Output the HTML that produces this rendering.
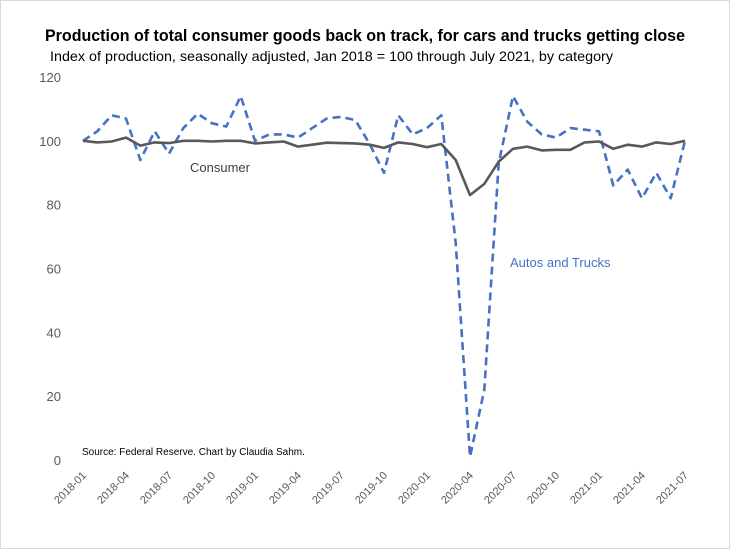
<!DOCTYPE html>
<html><head><meta charset="utf-8"><style>
body{margin:0;background:#fff;font-family:"Liberation Sans",sans-serif}
svg text{font-family:"Liberation Sans",sans-serif}
</style></head><body>
<svg id="chart" width="730" height="549" viewBox="0 0 730 549" xmlns="http://www.w3.org/2000/svg">
<rect x="0.5" y="0.5" width="729" height="548" fill="#fff" stroke="#d9d9d9"/>
<text x="45" y="41" textLength="640" lengthAdjust="spacingAndGlyphs" font-size="16.5" font-weight="bold" fill="#000">Production of total consumer goods back on track, for cars and trucks getting close</text>
<text x="50" y="61" textLength="563" lengthAdjust="spacingAndGlyphs" font-size="14" fill="#000">Index of production, seasonally adjusted, Jan 2018 = 100 through July 2021, by category</text>
<g id="yaxis"></g>
<g id="xaxis"></g>
<g id="series"></g>
<text x="190" y="172" font-size="13" fill="#404040">Consumer</text>
<text x="510" y="267" font-size="13" fill="#4472c4">Autos and Trucks</text>
<text x="82" y="455" font-size="10" fill="#000">Source: Federal Reserve. Chart by Claudia Sahm.</text>
</svg>
<script>
const yTicks=[0,20,40,60,80,100,120];
const consumer=[100,99.5,99.8,101,98.5,99.5,99.3,100,100,99.8,100,100,99.2,99.5,99.8,98.2,98.8,99.4,99.3,99.2,98.8,97.8,99.5,99,98,99,94,83,86.5,93.5,97.5,98.2,97,97.2,97.2,99.5,99.8,97.5,98.8,98.2,99.5,99,100];
const autos=[100,103,108,107,94,103,96,104,108.5,105.5,104.5,114,100,102,102,101,104,107,107.5,106.5,99,90,108,102,104,108,68,1,22,93,114,106,102,101,104,103.5,103,86,91,82,90,82,100];
const startYear=2018;
const NS="http://www.w3.org/2000/svg";
const x0=83,x1=685,y0=460,y1=77;
const xs=i=>x0+(x1-x0)*i/(consumer.length-1);
const ys=v=>y0-(y0-y1)*v/120;
function mk(tag,attrs,parent){const e=document.createElementNS(NS,tag);for(const k in attrs)e.setAttribute(k,attrs[k]);parent.appendChild(e);return e;}
const ya=document.getElementById('yaxis'),xa=document.getElementById('xaxis'),sr=document.getElementById('series');
yTicks.forEach(t=>{const e=mk('text',{x:61,y:ys(t)+5,'text-anchor':'end','font-size':13,fill:'#595959'},ya);e.textContent=t;

});
for(let i=0;i<consumer.length;i+=3){const y=startYear+Math.floor(i/12),m=i%12+1;const lab=y+'-'+String(m).padStart(2,'0');
const e=mk('text',{x:xs(i)+4,y:476,'text-anchor':'end','font-size':11,fill:'#595959',transform:`rotate(-45 ${xs(i)+4} 476)`},xa);e.textContent=lab;

}
const pts=a=>a.map((v,i)=>xs(i).toFixed(1)+','+ys(v).toFixed(1)).join(' ');
const l1=mk('polyline',{points:pts(autos),fill:'none',stroke:'#4472c4','stroke-width':2.6,'stroke-dasharray':'8 5','stroke-linejoin':'round'},sr);


const l2=mk('polyline',{points:pts(consumer),fill:'none',stroke:'#595959','stroke-width':2.6,'stroke-linejoin':'round'},sr);


</script>
</body></html>
